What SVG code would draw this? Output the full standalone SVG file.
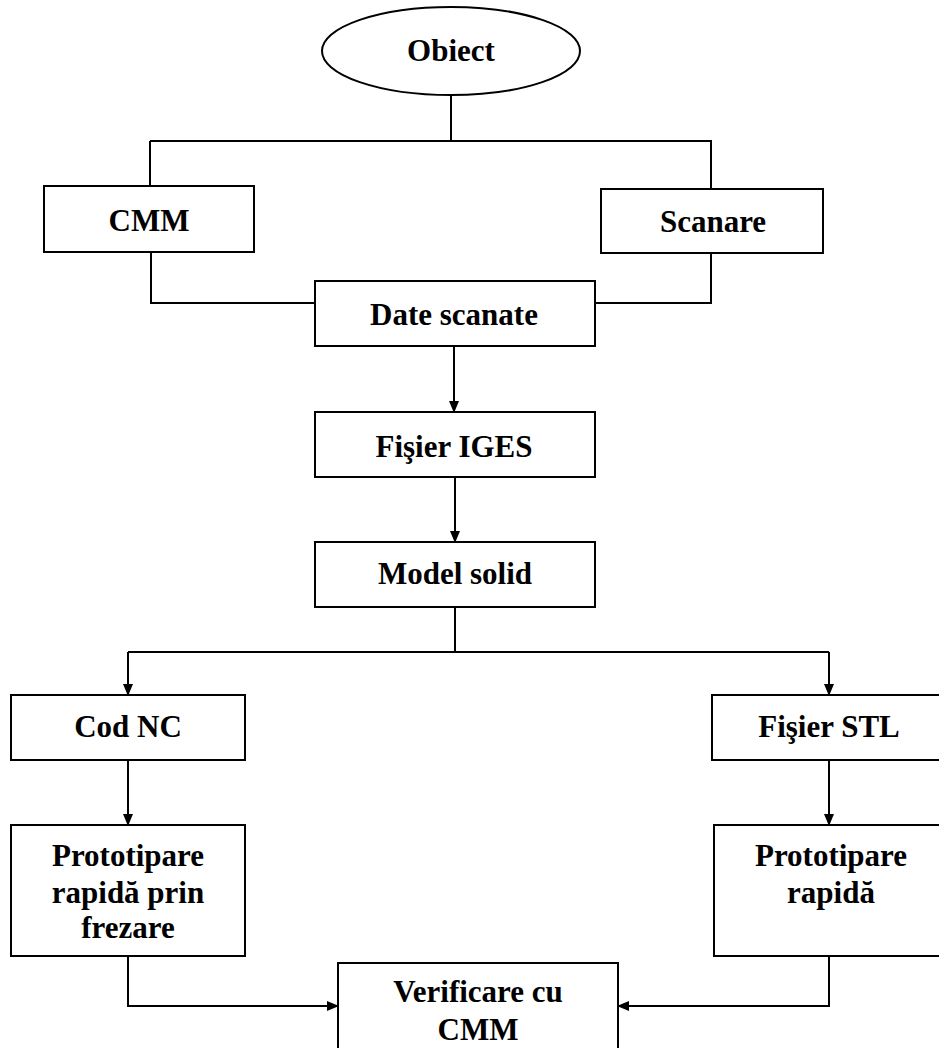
<svg xmlns="http://www.w3.org/2000/svg" width="939" height="1048" viewBox="0 0 939 1048">
  <style>
    .box { fill: #ffffff; stroke: #000000; stroke-width: 2; }
    .lbl { font-family: "Liberation Serif", "Times New Roman", serif; font-weight: bold; font-size: 31px; fill: #000000; text-anchor: middle; }
    .wire { fill: none; stroke: #000000; stroke-width: 2; }
  </style>
  <defs>
    <marker id="arrow" markerUnits="userSpaceOnUse" markerWidth="12" markerHeight="12" viewBox="0 0 12 10" refX="11" refY="5" orient="auto">
      <path d="M0,0 L12,5 L0,10 Z" fill="#000000"/>
    </marker>
  </defs>
  <rect width="939" height="1048" fill="#ffffff"/>

  <!-- connectors -->
  <g id="connectors" class="wire">
    <path d="M451,95 V141"/>
    <path d="M150,141 H712"/>
    <path d="M150,141 V186"/>
    <path d="M711,141 V189"/>
    <path d="M151,252 V303 H315"/>
    <path d="M711,253 V303 H595"/>
    <path d="M454,346 V412" marker-end="url(#arrow)"/>
    <path d="M455,477 V542" marker-end="url(#arrow)"/>
    <path d="M455,607 V652"/>
    <path d="M128,652 H829"/>
    <path d="M128,652 V695" marker-end="url(#arrow)"/>
    <path d="M829,652 V695" marker-end="url(#arrow)"/>
    <path d="M128,760 V825" marker-end="url(#arrow)"/>
    <path d="M829,760 V825" marker-end="url(#arrow)"/>
    <path d="M128,956 V1006 H338" marker-end="url(#arrow)"/>
    <path d="M829,956 V1006 H618" marker-end="url(#arrow)"/>
  </g>

  <g id="obiect">
    <ellipse class="box" cx="451" cy="51" rx="129" ry="44"/>
    <text class="lbl" x="451" y="61">Obiect</text>
  </g>
  <g id="cmm">
    <rect class="box" x="44" y="186" width="210" height="66"/>
    <text class="lbl" x="149" y="231">CMM</text>
  </g>
  <g id="scanare">
    <rect class="box" x="601" y="189" width="222" height="64"/>
    <text class="lbl" x="713" y="232">Scanare</text>
  </g>
  <g id="date-scanate">
    <rect class="box" x="315" y="281" width="280" height="65"/>
    <text class="lbl" x="454" y="325">Date scanate</text>
  </g>
  <g id="fisier-iges">
    <rect class="box" x="315" y="412" width="280" height="65"/>
    <text class="lbl" x="454" y="457">Fişier IGES</text>
  </g>
  <g id="model-solid">
    <rect class="box" x="315" y="542" width="280" height="65"/>
    <text class="lbl" x="455" y="584">Model solid</text>
  </g>
  <g id="cod-nc">
    <rect class="box" x="11" y="695" width="234" height="65"/>
    <text class="lbl" x="128" y="737">Cod NC</text>
  </g>
  <g id="fisier-stl">
    <rect class="box" x="712" y="695" width="240" height="65"/>
    <text class="lbl" x="829" y="737">Fişier STL</text>
  </g>
  <g id="prototipare-frezare">
    <rect class="box" x="11" y="825" width="234" height="131"/>
    <text class="lbl" x="128" y="866">Prototipare</text>
    <text class="lbl" x="128" y="903">rapidă prin</text>
    <text class="lbl" x="128" y="938">frezare</text>
  </g>
  <g id="prototipare-rapida">
    <rect class="box" x="714" y="825" width="240" height="131"/>
    <text class="lbl" x="831" y="866">Prototipare</text>
    <text class="lbl" x="831" y="903">rapidă</text>
  </g>
  <g id="verificare">
    <rect class="box" x="338" y="963" width="280" height="100"/>
    <text class="lbl" x="478" y="1002">Verificare cu</text>
    <text class="lbl" x="478" y="1040">CMM</text>
  </g>
</svg>
